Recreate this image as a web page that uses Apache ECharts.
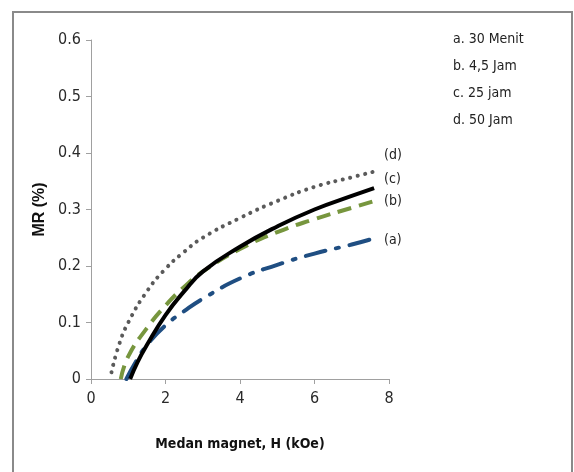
<!DOCTYPE html>
<html><head><meta charset="utf-8">
<script src="https://cdn.jsdelivr.net/npm/echarts@6/dist/echarts.min.js"></script>
<style>html,body{margin:0;padding:0;background:#fff}#c{width:574px;height:472px}</style>
</head><body><div id="c"></div>
<script>
var FONT = "'DejaVu Sans Condensed','Liberation Sans Narrow',sans-serif";
// Medan magnet H (kOe) and MR (%)
var hA = [0.95, 1.2, 1.5, 2, 2.5, 3, 4, 5, 6, 7, 7.6];
var mrA = [0, 0.03, 0.06, 0.095, 0.12, 0.142, 0.178, 0.202, 0.222, 0.238, 0.249];
var hB = [0.8, 1, 1.5, 2, 2.5, 3, 4, 5, 6, 7, 7.6];
var mrB = [0, 0.04, 0.09, 0.13, 0.163, 0.19, 0.23, 0.26, 0.283, 0.303, 0.315];
var hC = [1.05, 1.25, 1.5, 2, 2.5, 3, 4, 5, 6, 7, 7.6];
var mrC = [0, 0.03, 0.06, 0.113, 0.155, 0.19, 0.234, 0.27, 0.3, 0.324, 0.338];
var hD = [0.55, 0.75, 1, 1.5, 2, 2.5, 3, 4, 5, 6, 7, 7.6];
var mrD = [0.012, 0.06, 0.1, 0.155, 0.195, 0.225, 0.25, 0.285, 0.315, 0.34, 0.357, 0.367];
var curveLabels = ['(a)', '(b)', '(c)', '(d)'];
var legendLines = ['a. 30 Menit', 'b. 4,5 Jam', 'c. 25 jam', 'd. 50 Jam'];

function pairs(h, m) { return h.map(function (v, i) { return [v, m[i]]; }); }

var chart = echarts.init(document.getElementById('c'));
function mk(name, h, m, color, type, cap, off) {
  return {
    type: 'line', name: name, data: pairs(h, m), smooth: true, showSymbol: false, symbol: 'none',
    lineStyle: { color: color, width: 4, type: type, cap: cap },
    endLabel: { show: true, formatter: name, fontFamily: FONT, fontSize: 14, color: '#222', offset: off },
    animation: false
  };
}
chart.setOption({
  backgroundColor: '#fff',
  grid: { left: 91, top: 40, right: 185, bottom: 93 },
  xAxis: {
    type: 'value', min: 0, max: 8, interval: 2,
    name: 'Medan magnet, H (kOe)', nameLocation: 'middle', nameGap: 58,
    nameTextStyle: { fontFamily: FONT, fontWeight: 'bold', fontSize: 14, color: '#111' },
    axisLine: { lineStyle: { color: '#a0a0a0', width: 1 } },
    axisTick: { show: true, length: 5, lineStyle: { color: '#a0a0a0' } },
    axisLabel: { fontFamily: FONT, fontSize: 16, color: '#2a2a2a', margin: 12 },
    splitLine: { show: false }
  },
  yAxis: {
    type: 'value', min: 0, max: 0.6, interval: 0.1,
    name: 'MR (%)', nameLocation: 'middle', nameGap: 37,
    nameTextStyle: { fontFamily: "'Liberation Sans',Arial,sans-serif", fontWeight: 'bold', fontSize: 16, color: '#111' },
    axisLine: { show: true, lineStyle: { color: '#a0a0a0', width: 1 } },
    axisTick: { show: true, length: 5, lineStyle: { color: '#a0a0a0' } },
    axisLabel: { fontFamily: FONT, fontSize: 16, color: '#2a2a2a', margin: 10,
      formatter: function (v) { return v === 0 ? '0' : v.toFixed(1); } },
    splitLine: { show: false }
  },
  graphic: [
    { type: 'rect', shape: { x: 13, y: 12, width: 559, height: 480 }, style: { fill: 'none', stroke: '#8a8a8a', lineWidth: 2 }, silent: true }
  ].concat(legendLines.map(function (t, i) {
    return { type: 'text', left: 453, top: 32 + i * 27, style: { text: t, font: '14px ' + FONT, fill: '#222' } };
  })),
  series: [
    mk(curveLabels[0], hA, mrA, '#1f4e82', [20, 11, 3, 11], 'round', [2, 2]),
    mk(curveLabels[1], hB, mrB, '#77963e', [14, 8], 'butt', [2, 0]),
    mk(curveLabels[2], hC, mrC, '#000000', 'solid', 'butt', [2, -9]),
    mk(curveLabels[3], hD, mrD, '#5a5a5a', [0.1, 7.5], 'round', [2, -16])
  ]
});
</script></body></html>
